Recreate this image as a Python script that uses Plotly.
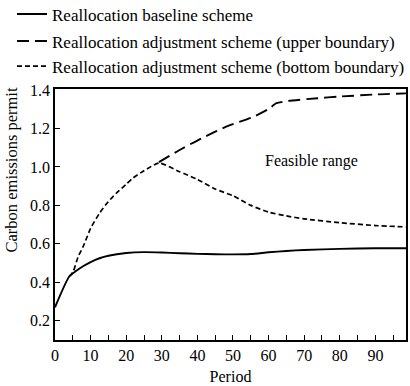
import plotly.graph_objects as go

# Data
base_t = [0, 4, 6, 8, 10, 12.5, 15, 20, 25, 30, 35, 40, 45, 50, 55, 60, 65, 70, 80, 90, 98.6]
base_v = [0.27, 0.43, 0.46, 0.485, 0.505, 0.525, 0.538, 0.552, 0.557, 0.555, 0.551, 0.548,
          0.546, 0.545, 0.547, 0.556, 0.563, 0.568, 0.574, 0.577, 0.577]

upper_t = [29.2, 35, 41.3, 48.8, 55.2, 59.9, 62.2, 65.5, 73.8, 79.4, 90.5, 98.6]
upper_v = [1.025, 1.088, 1.15, 1.215, 1.256, 1.30, 1.331, 1.343, 1.357, 1.365, 1.377, 1.382]

bottom_t = [4, 5.1, 6.5, 7.9, 10, 12.5, 15, 17.2, 20, 21.8, 25, 29.2, 35, 40, 45, 50, 55,
            60, 65, 70, 80, 90, 98.6]
bottom_v = [0.43, 0.455, 0.533, 0.585, 0.68, 0.759, 0.82, 0.863, 0.91, 0.941, 0.98, 1.02,
            0.975, 0.935, 0.885, 0.85, 0.80, 0.765, 0.745, 0.73, 0.71, 0.695, 0.688]

names = ["Reallocation baseline scheme",
         "Reallocation adjustment scheme (upper boundary)",
         "Reallocation adjustment scheme (bottom boundary)"]

x_ticks = [0, 10, 20, 30, 40, 50, 60, 70, 80, 90]
y_ticks = [0.2, 0.4, 0.6, 0.8, 1.0, 1.2, 1.4]

FONT = "Liberation Serif"
W, H = 410, 386

fig = go.Figure()
fig.add_trace(go.Scatter(x=base_t, y=base_v, mode="lines", name=names[0], legend="legend",
                         line=dict(color="black", width=1.9, dash="solid", shape="spline", smoothing=0.6)))
fig.add_trace(go.Scatter(x=upper_t, y=upper_v, mode="lines", name=names[1], legend="legend2",
                         line=dict(color="black", width=1.9, dash="12px,6px", shape="spline", smoothing=0.6)))
fig.add_trace(go.Scatter(x=bottom_t, y=bottom_v, mode="lines", name=names[2], legend="legend3",
                         line=dict(color="black", width=1.7, dash="5px,3px", shape="spline", smoothing=0.6)))

fig.add_annotation(x=72, y=1.03, text="Feasible range", showarrow=False,
                   font=dict(family=FONT, size=16, color="black"))
fig.add_annotation(xref="paper", yref="paper", x=-0.1254, y=1.016, xanchor="center", yanchor="top",
                   text="Carbon emissions permit", textangle=-90, showarrow=False,
                   font=dict(family=FONT, size=16.5, color="black"))


def leg(yc):
    return dict(xref="container", yref="container", x=12 / W, y=1 - yc / H,
                xanchor="left", yanchor="middle", bgcolor="rgba(0,0,0,0)",
                font=dict(family=FONT, size=17, color="black"), itemwidth=30)


fig.update_layout(
    width=W, height=H,
    margin=dict(l=55, r=4, t=89, b=46, autoexpand=False),
    paper_bgcolor="white", plot_bgcolor="white",
    font=dict(family=FONT, size=16, color="black"),
    showlegend=True,
    legend=leg(14.5), legend2=leg(41.5), legend3=leg(66.5),
    xaxis=dict(range=[0, 98.6], tickvals=x_ticks, ticks="inside", ticklen=5, tickwidth=1.3,
               tickcolor="black", showline=True, linecolor="black", linewidth=1.5, mirror=True,
               showgrid=False, zeroline=False,
               minor=dict(dtick=5, tick0=0, ticks="inside", ticklen=5, tickwidth=1.3, tickcolor="black", showgrid=False),
               title=dict(text="Period", font=dict(family=FONT, size=16), standoff=8),
               tickfont=dict(family=FONT, size=16)),
    yaxis=dict(range=[0.1, 1.405], tickvals=y_ticks, tickformat=".1f", ticks="inside", ticklen=5,
               tickwidth=1.3, tickcolor="black", showline=True, linecolor="black", linewidth=1.5,
               mirror=True, showgrid=False, zeroline=False,
               tickfont=dict(family=FONT, size=16)),
)

# remove the browser's default 8px body margin so the figure fills the window
fig.write_html("out.html", config={"displayModeBar": False},
               post_script="document.body.style.margin='0';")
